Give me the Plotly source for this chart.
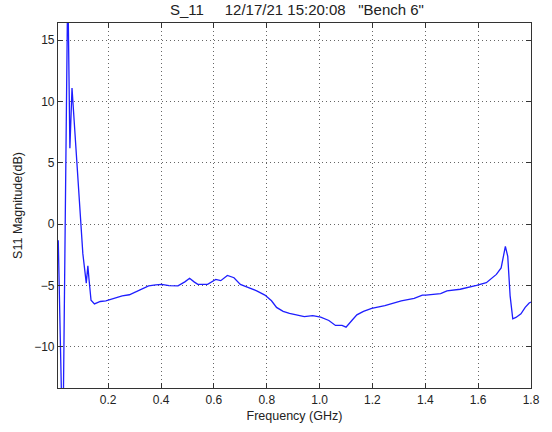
import plotly.graph_objects as go

freq_ghz = [0.011, 0.028, 0.047, 0.055, 0.063, 0.072, 0.089, 0.094, 0.104, 0.117,
            0.123, 0.127, 0.135, 0.148, 0.17, 0.191, 0.22, 0.253, 0.28, 0.315,
            0.335, 0.353, 0.38, 0.402, 0.43, 0.452, 0.464, 0.49, 0.508, 0.525,
            0.539, 0.576, 0.607, 0.626, 0.651, 0.676, 0.700, 0.731, 0.762, 0.793,
            0.818, 0.837, 0.862, 0.886, 0.918, 0.942, 0.974, 1.004, 1.035, 1.06,
            1.085, 1.10, 1.122, 1.141, 1.166, 1.197, 1.247, 1.309, 1.358, 1.389,
            1.402, 1.433, 1.458, 1.482, 1.532, 1.594, 1.631, 1.669, 1.687, 1.703,
            1.712, 1.721, 1.731, 1.743, 1.762, 1.778, 1.793, 1.8]
s11_db = [-1.3, -19.0, 20.0, 6.2, 11.1, 8.0, 2.2, 0.3, -2.4, -4.8,
          -3.4, -4.4, -6.2, -6.5, -6.3, -6.24, -6.05, -5.84, -5.75, -5.43,
          -5.2, -5.03, -4.95, -4.9, -5.0, -5.03, -5.03, -4.7, -4.41, -4.7,
          -4.9, -4.9, -4.5, -4.6, -4.17, -4.36, -4.9, -5.17, -5.43, -5.78,
          -6.24, -6.78, -7.1, -7.26, -7.39, -7.53, -7.45, -7.58, -7.85, -8.25,
          -8.25, -8.39, -7.85, -7.39, -7.1, -6.86, -6.64, -6.24, -6.05, -5.78,
          -5.78, -5.7, -5.65, -5.43, -5.3, -4.98, -4.77, -4.09, -3.56, -1.81,
          -2.62, -5.84, -7.71, -7.6, -7.31, -6.78, -6.42, -6.35]

x_ticks = [0.2, 0.4, 0.6, 0.8, 1.0, 1.2, 1.4, 1.6, 1.8]
x_tick_text = ["0.2", "0.4", "0.6", "0.8", "1.0", "1.2", "1.4", "1.6", "1.8"]
y_ticks = [-10, -5, 0, 5, 10, 15]

nb = "\u00a0"
title = "S_11" + nb * 5 + "12/17/21 15:20:08" + nb * 3 + "\"Bench 6\""

fig = go.Figure()
fig.add_trace(go.Scatter(x=freq_ghz, y=s11_db, mode="lines",
                         line=dict(color="rgb(30,30,255)", width=1.3),
                         showlegend=False))

axis_common = dict(showline=True, linecolor="#333333", linewidth=1.2, mirror="all",
                   ticks="inside", ticklen=5, tickcolor="#333333",
                   showgrid=True, gridcolor="#666666", griddash="1px,3px", gridwidth=1,
                   zeroline=False, tickfont=dict(size=12, color="#222222"))

fig.update_xaxes(range=[0.01, 1.8], tickvals=x_ticks, ticktext=x_tick_text,
                 title=dict(text="Frequency (GHz)", font=dict(size=12.5, color="#222222"), standoff=5),
                 **axis_common)
fig.update_yaxes(range=[-13.35, 16.4], tickvals=y_ticks,
                 title=dict(text="S11 Magnitude(dB)", font=dict(size=12.5, color="#222222"), standoff=8),
                 **axis_common)

fig.update_layout(
    width=552, height=432,
    margin=dict(l=58, r=15, t=23, b=39),
    paper_bgcolor="white", plot_bgcolor="white",
    font=dict(family="Liberation Sans, Arial, sans-serif", color="#222222"),
    title=dict(text=title, x=0.538, xanchor="center", y=0.99, yanchor="top",
               font=dict(size=15, color="#222222")),
)

fig.write_html("out.html")
